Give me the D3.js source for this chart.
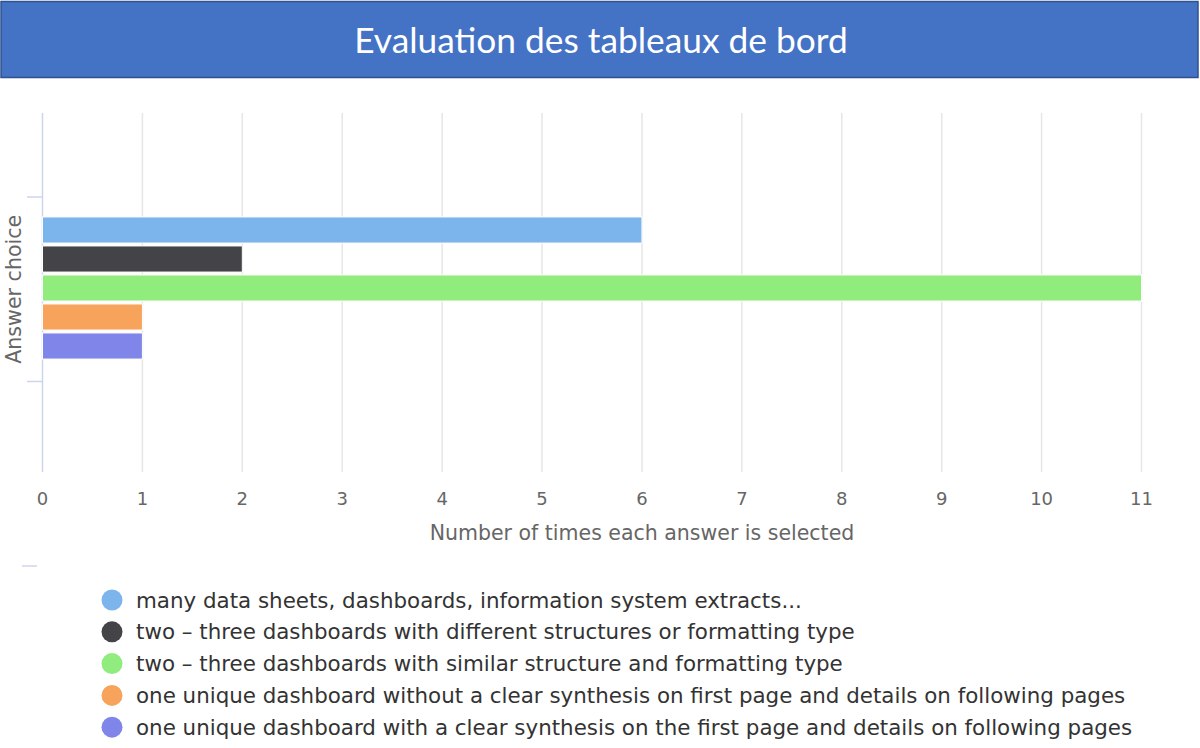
<!DOCTYPE html>
<html>
<head>
<meta charset="utf-8">
<script src="https://cdn.jsdelivr.net/npm/d3@7"></script>
<style>
  body { margin: 0; background: #fff; }
  svg { display: block; }
</style>
</head>
<body>
<div id="chart"></div>
<script>
// Evaluation des tableaux de bord

const categories = ["Answer choice", ""]; // second band is empty, only its tick shows
const seriesNames = [
    "many data sheets, dashboards, information system extracts...",
    "two \u2013 three dashboards with different structures or formatting type",
    "two \u2013 three dashboards with similar structure and formatting type",
    "one unique dashboard without a clear synthesis on first page and details on following pages",
    "one unique dashboard with a clear synthesis on the first page and details on following pages"
];
const seriesValues = [6, 2, 11, 1, 1];
const seriesColors = ["#7cb5ec", "#434348", "#90ed7d", "#f7a35c", "#8085e9"];
const xTicks = [0, 1, 2, 3, 4, 5, 6, 7, 8, 9, 10, 11];

const width = 1200,
    height = 748,
    margin = ({top: 113, right: 58, bottom: 276, left: 42});

const font = "'DejaVu Sans', Verdana, sans-serif";

let svg = d3.select("#chart")
    .append("svg")
    .attr("width", width)
    .attr("height", height)
    .attr("viewBox", [0, 0, width, height]);

// title banner
svg.append("rect")
    .attr("x", 1)
    .attr("y", 1.5)
    .attr("width", 1197)
    .attr("height", 76)
    .attr("fill", "#4472c4")
    .attr("stroke", "#2f528f")
    .attr("stroke-width", 1.5);

svg.append("text")
    .attr("x", 601)
    .attr("y", 53)
    .attr("text-anchor", "middle")
    .style("font-family", "Lato, 'Open Sans', sans-serif")
    .style("font-size", "35.3px")
    .style("fill", "#fff")
    .text("Evaluation des tableaux de bord");

// scales
let x = d3.scaleLinear()
    .domain([0, 11])
    .range([42.5, 1141.5]);

let y = d3.scaleBand() // outer band, one per category
    .domain(categories)
    .range([197, 566]);

let ySub = d3.scaleBand() // inner band, one per series
    .domain(d3.range(seriesValues.length))
    .range([215.5, 360.5])
    .paddingInner(0.1)
    .paddingOuter(0.05);

const plotTop = margin.top,
    plotBottom = height - margin.bottom;

// vertical grid lines
svg.append("g")
    .selectAll("line")
    .data(xTicks.slice(1))
    .join("line")
    .attr("x1", d => x(d))
    .attr("x2", d => x(d))
    .attr("y1", plotTop)
    .attr("y2", plotBottom)
    .attr("stroke", "#e6e6e6")
    .attr("stroke-width", 1.5);

// y axis line
svg.append("line")
    .attr("x1", x(0))
    .attr("x2", x(0))
    .attr("y1", plotTop)
    .attr("y2", plotBottom)
    .attr("stroke", "#ccd6eb")
    .attr("stroke-width", 1.5);

// y axis ticks at band edges
let yEdges = categories.map(c => y(c)).concat([y.range()[1]]);
svg.append("g")
    .selectAll("line")
    .data(yEdges)
    .join("line")
    .attr("x1", (d, i) => i == 2 ? 22 : 27)
    .attr("x2", (d, i) => i == 2 ? 37 : 42)
    .attr("y1", d => d)
    .attr("y2", d => d)
    .attr("stroke", "#ccd6eb")
    .attr("stroke-width", 1.5);

// x tick labels
svg.append("g")
    .selectAll("text")
    .data(xTicks)
    .join("text")
    .attr("x", d => x(d))
    .attr("y", 505)
    .attr("text-anchor", "middle")
    .style("font-family", font)
    .style("font-size", "18px")
    .style("fill", "#666")
    .text(d => d);

// axis titles
svg.append("text")
    .attr("x", 642)
    .attr("y", 540)
    .attr("text-anchor", "middle")
    .style("font-family", font)
    .style("font-size", "20.5px")
    .style("fill", "#666")
    .text("Number of times each answer is selected");

svg.append("text")
    .attr("transform", `translate(21,${y(categories[0]) + y.bandwidth() / 2}) rotate(-90)`)
    .attr("text-anchor", "middle")
    .style("font-family", font)
    .style("font-size", "20.6px")
    .style("fill", "#666")
    .text("Answer choice");

// bars
svg.append("g")
    .selectAll("rect")
    .data(seriesValues)
    .join("rect")
    .attr("x", x(0))
    .attr("y", (d, i) => ySub(i))
    .attr("width", d => x(d) - x(0))
    .attr("height", ySub.bandwidth())
    .attr("fill", (d, i) => seriesColors[i])
    .attr("stroke", "#fff")
    .attr("stroke-width", 1);

// legend
let legend = svg.append("g")
    .selectAll("g")
    .data(seriesNames)
    .join("g")
    .attr("transform", (d, i) => `translate(112,${600 + i * 31.8})`);

legend.append("circle")
    .attr("r", 10.5)
    .attr("fill", (d, i) => seriesColors[i]);

legend.append("text")
    .attr("x", 24)
    .attr("y", 7.5)
    .style("font-family", font)
    .style("font-size", "21.4px")
    .style("fill", "#333")
    .text(d => d);
</script>
</body>
</html>
